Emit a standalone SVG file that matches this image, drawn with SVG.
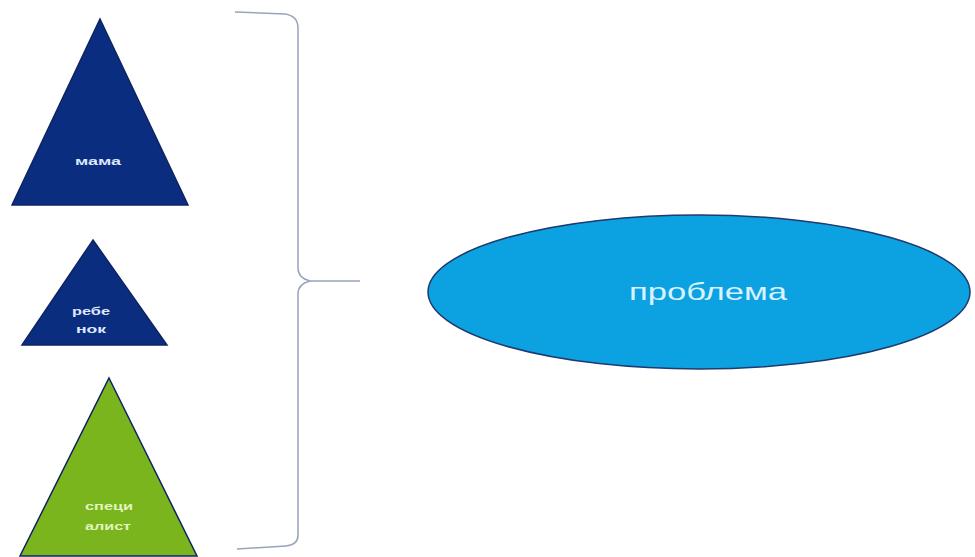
<svg xmlns="http://www.w3.org/2000/svg" width="975" height="557" viewBox="0 0 975 557">
<style>
.tri{stroke:#0d2460;stroke-width:1.5}
.navy{fill:#0b2d80}
.green{fill:#7ab51d}
.lbl{font-family:"Liberation Sans",Arial,sans-serif;fill:#dfe8ff;text-anchor:middle;font-weight:bold}
.small{font-size:11px}
.glbl{fill:#e2f5c0}
.big{font-size:24px;font-weight:normal;fill:#d8f2ff}
.brace{fill:none;stroke:#9aa3bd;stroke-width:1.5}
</style>
<rect width="975" height="557" fill="#ffffff"/>
<g id="mama">
<polygon class="tri navy" points="100,19 188,205 12,205"/>
<text class="lbl small" x="98" y="165" textLength="46" lengthAdjust="spacingAndGlyphs">мама</text>
</g>
<g id="rebenok">
<polygon class="tri navy" points="93,240 167,345 22,345"/>
<text class="lbl small" x="91" y="315" textLength="38" lengthAdjust="spacingAndGlyphs">ребе</text>
<text class="lbl small" x="91" y="333" textLength="30" lengthAdjust="spacingAndGlyphs">нок</text>
</g>
<g id="specialist">
<polygon class="tri green" points="109,378 197,556 20,556"/>
<text class="lbl small glbl" x="109" y="510" textLength="48" lengthAdjust="spacingAndGlyphs">специ</text>
<text class="lbl small glbl" x="108" y="530" textLength="46" lengthAdjust="spacingAndGlyphs">алист</text>
</g>
<g id="connectors">
<path class="brace" d="M235,12 L285,14 Q298,16 298,28 L298,268 Q298,278 310,281 L360,281 M310,281 Q298,284 298,294 L298,535 Q298,545 286,546 L237,549"/>
</g>
<g id="problema">
<ellipse cx="699" cy="292" rx="271" ry="77" fill="#0ca2e2" stroke="#1f3a6e" stroke-width="1.5"/>
<text class="lbl big" x="708" y="300" textLength="158" lengthAdjust="spacingAndGlyphs">проблема</text>
</g>
</svg>
